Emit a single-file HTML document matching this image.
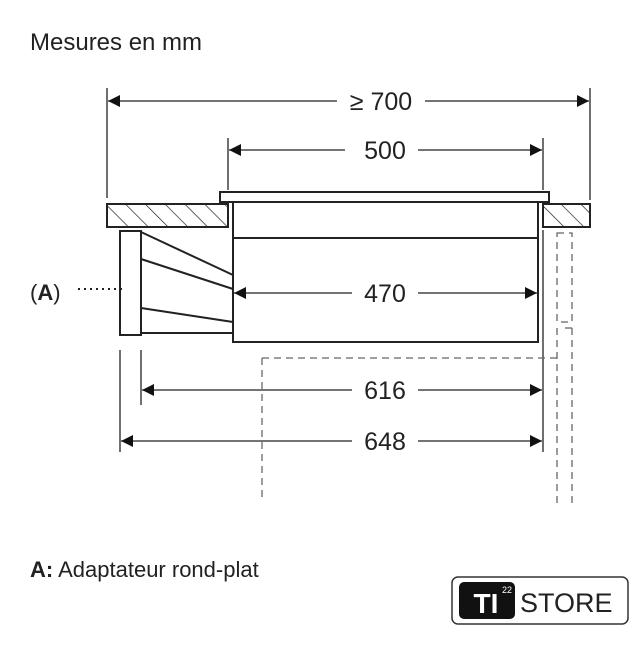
<!DOCTYPE html>
<html><head><style>
body{margin:0;background:#fff}
svg text{font-family:"Liberation Sans",sans-serif;fill:#222}
</style></head><body>
<svg width="640" height="640" viewBox="0 0 640 640" xmlns="http://www.w3.org/2000/svg">
<defs>
<pattern id="h" width="14" height="14" patternUnits="userSpaceOnUse" patternTransform="rotate(-45)">
<line x1="0" y1="0" x2="0" y2="14" stroke="#222" stroke-width="1.4"/></pattern>
<marker id="a" viewBox="0 0 10 10" refX="10" refY="5" markerWidth="14" markerHeight="12" markerUnits="userSpaceOnUse" orient="auto-start-reverse"><path d="M0,0L10,5L0,10z" fill="#111"/></marker>
</defs>
<rect width="640" height="640" fill="#fff"/>
<text x="30" y="50" font-size="24">Mesures en mm</text>
<g stroke="#222" fill="none" stroke-width="1.3">
<line x1="107" y1="88" x2="107" y2="198"/>
<line x1="590" y1="88" x2="590" y2="200"/>
<line x1="228" y1="138" x2="228" y2="190"/>
<line x1="543" y1="138" x2="543" y2="190"/>
<line x1="141" y1="350" x2="141" y2="405"/>
<line x1="120" y1="350" x2="120" y2="452"/>
<line x1="543" y1="230" x2="543" y2="452"/>
</g>
<g stroke="#222" stroke-width="2">
<rect x="107" y="204" width="121" height="23" fill="url(#h)"/>
<rect x="543" y="204" width="47" height="23" fill="url(#h)"/>
<rect x="220" y="192" width="329" height="10" fill="#fff"/>
<rect x="233" y="202" width="305" height="36" fill="#fff"/>
<rect x="233" y="238" width="305" height="104" fill="#fff"/>
<rect x="120" y="231" width="21" height="104" fill="#fff"/>
<line x1="141" y1="232" x2="233" y2="275"/>
<line x1="141" y1="259" x2="233" y2="289"/>
<line x1="141" y1="308" x2="233" y2="322"/>
<line x1="141" y1="333" x2="233" y2="333"/>
</g>
<line x1="228" y1="204" x2="228" y2="227" stroke="#222" stroke-width="1.3"/>
<g stroke="#666" stroke-width="1.3" fill="none" stroke-dasharray="7,5">
<path d="M262,358H557"/>
<path d="M262,358V497"/>
<path d="M557,233H572V322H557Z"/>
<path d="M557,328V505"/>
<path d="M572,328V505"/>
<path d="M565,328H572" stroke-dasharray="none"/>
</g>
<g stroke="#222" stroke-width="1.3" marker-start="url(#a)" marker-end="url(#a)">
<line x1="108" y1="101" x2="337" y2="101" marker-end="none"/>
<line x1="425" y1="101" x2="589" y2="101" marker-start="none"/>
<line x1="229" y1="150" x2="345" y2="150" marker-end="none"/>
<line x1="418" y1="150" x2="542" y2="150" marker-start="none"/>
<line x1="234" y1="293" x2="352" y2="293" marker-end="none"/>
<line x1="418" y1="293" x2="537" y2="293" marker-start="none"/>
<line x1="142" y1="390" x2="352" y2="390" marker-end="none"/>
<line x1="418" y1="390" x2="542" y2="390" marker-start="none"/>
<line x1="121" y1="441" x2="352" y2="441" marker-end="none"/>
<line x1="418" y1="441" x2="542" y2="441" marker-start="none"/>
</g>
<g font-size="25" text-anchor="middle">
<text x="381" y="110">≥ 700</text>
<text x="385" y="159">500</text>
<text x="385" y="302">470</text>
<text x="385" y="399">616</text>
<text x="385" y="450">648</text>
</g>
<text x="30" y="300" font-size="22">(<tspan font-weight="bold">A</tspan>)</text>
<line x1="78" y1="289" x2="125" y2="289" stroke="#222" stroke-width="2" stroke-dasharray="2,4"/>
<text x="30" y="577" font-size="22"><tspan font-weight="bold">A:</tspan> Adaptateur rond-plat</text>
<rect x="452" y="577" width="176" height="47" rx="6" fill="#fff" stroke="#333" stroke-width="1.5"/>
<rect x="459" y="582" width="56" height="37" rx="5" fill="#111"/>
<text x="486" y="613" font-size="28" font-weight="bold" text-anchor="middle" style="fill:#fff">TI</text>
<text x="502" y="593" font-size="9" style="fill:#fff">22</text>
<text x="520" y="612" font-size="27">STORE</text>
</svg>
</body></html>
